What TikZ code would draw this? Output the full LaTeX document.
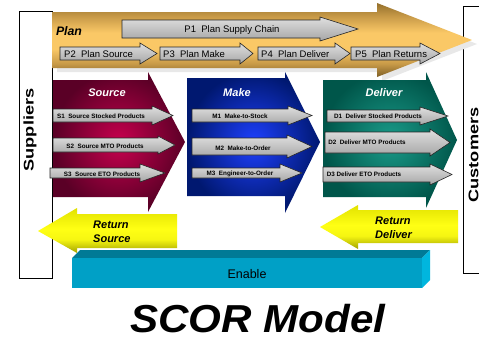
\documentclass[tikz,border=0pt]{standalone}
\usepackage{fontspec}
\setmainfont{Liberation Sans}
\usetikzlibrary{calc}

\definecolor{planDark}{HTML}{94702C}
\definecolor{planEdge}{HTML}{C89A48}
\definecolor{planMid}{HTML}{FAC866}
\definecolor{planLow}{HTML}{7E5F26}
\definecolor{srcIn}{HTML}{C8004E}
\definecolor{srcOut}{HTML}{5A0026}
\definecolor{mkIn}{HTML}{1E40FF}
\definecolor{mkOut}{HTML}{001870}
\definecolor{dlIn}{HTML}{1A9C8A}
\definecolor{dlOut}{HTML}{00564A}
\definecolor{retTop}{HTML}{E2E200}
\definecolor{retMid}{HTML}{FFFF14}
\definecolor{retBot}{HTML}{A2A200}
\definecolor{enFront}{HTML}{00A0C6}
\definecolor{enTop}{HTML}{007A96}
\definecolor{enSide}{HTML}{00B6DE}

% the path's bounding box spans 25bp..75bp of a shading
% golden band: dark flaps, bright centre line
\pgfdeclareverticalshading{planshade}{100bp}{%
  color(0bp)=(planLow); color(25bp)=(planLow); color(34bp)=(planEdge);
  color(44bp)=(planMid); color(55bp)=(planMid); color(66bp)=(planEdge);
  color(75bp)=(planDark); color(100bp)=(planDark)}
% yellow return arrows
\pgfdeclareverticalshading{retshade}{100bp}{%
  color(0bp)=(retBot); color(25bp)=(retBot); color(40bp)=(retMid!90!retBot);
  color(52bp)=(retMid); color(75bp)=(retTop); color(100bp)=(retTop)}

\tikzset{
  partybox/.style={draw=black, line width=0.9pt},
  subarrow/.style={draw=black!85, line width=0.6pt, top color=gray!25, bottom color=gray!70},
  planlabel/.style={font=\fontsize{9.5}{11}\selectfont, inner sep=0pt},
  sublabel/.style={font=\fontsize{6.3}{7}\selectfont\bfseries, inner sep=0pt},
  stagetitle/.style={font=\fontsize{11}{13}\selectfont\bfseries\itshape, text=white, inner sep=0pt},
  returnlabel/.style={font=\fontsize{11}{13.5}\selectfont\bfseries\itshape, align=left, inner sep=0pt},
  partylabel/.style={font=\fontsize{14}{16}\selectfont\bfseries, rotate=90, inner sep=0pt},
}

% right-pointing block arrow: x-left, x-head, x-tip, y-top, y-bottom, head overhang
\newcommand\grarr[6]{%
  \path[subarrow] (#1,#4) -- (#2,#4) -- (#2,#4-#6) -- (#3,{(#4+#5)/2})
    -- (#2,#5+#6) -- (#2,#5) -- (#1,#5) -- cycle;}

\begin{document}
\begin{tikzpicture}[x=1pt, y=-1pt]
\useasboundingbox[fill=white] (0,0) rectangle (479,338);

% trading partners
\draw[partybox] (19,11) rectangle (52,278);
\draw[partybox] (490,6) -- (463,6) -- (463,273) -- (490,273);
\node[partylabel] (suppliers) at (30,130) {\scalebox{1.3}[1]{Suppliers}};
\node[partylabel] (customers) at (473.5,155) {\scalebox{1.3}[1]{Customers}};

% Plan band with its shadow
\fill[gray!18] (57,16) -- (382,16) -- (382,7) -- (477,44) -- (382,81) -- (382,72) -- (57,72) -- cycle;
\path[shading=planshade]
  (52,12) -- (377,12) -- (377,3) -- (472,40) -- (377,77) -- (377,68) -- (52,68) -- cycle;
\node[font=\fontsize{12.3}{14}\selectfont\bfseries\itshape, inner sep=0pt] (plan) at (69,31) {Plan};

% Source, Make, Deliver
\path[inner color=srcIn, outer color=srcOut]
  (53,80) -- (148,80) -- (148,72) -- (185,142) -- (148,212) -- (148,197) -- (53,197) -- cycle;
\path[inner color=mkIn, outer color=mkOut]
  (187,78) -- (285,78) -- (285,72) -- (320,142) -- (285,213) -- (285,196) -- (187,196) -- cycle;
\path[inner color=dlIn, outer color=dlOut]
  (323,80) -- (426,80) -- (426,72) -- (457,140) -- (426,208) -- (426,197) -- (323,197) -- cycle;
\node[stagetitle] (source) at (107,93) {Source};
\node[stagetitle] (make) at (237,93) {Make};
\node[stagetitle] (deliver) at (384,93) {Deliver};

% process arrows
\grarr{122}{320}{358}{20}{38}{3}
\grarr{60}{140}{157}{47}{60}{4}
\grarr{160}{240}{253}{47}{60}{4}
\grarr{258}{335}{350}{47}{60}{4}
\grarr{351}{420}{440}{47}{60}{4}
\grarr{53}{152}{173}{109}{122}{3}
\grarr{53}{158}{175}{138}{152}{2}
\grarr{50}{140}{165}{168}{178}{4}
\grarr{192}{288}{312}{109}{122}{3}
\grarr{192}{287}{312}{138}{155}{3}
\grarr{192}{280}{302}{168}{178}{4}
\grarr{327}{420}{448}{110}{122}{3}
\grarr{325}{430}{450}{132}{153}{3}
\grarr{323}{430}{452}{167}{182}{3}

\node[planlabel] (p1) at (232,30) {P1\ \ Plan Supply Chain};
\node[planlabel, anchor=west] (p2) at (64,54) {P2\ \ Plan Source};
\node[planlabel, anchor=west] (p3) at (163,54) {P3\ \ Plan Make};
\node[planlabel, anchor=west] (p4) at (261,54) {P4\ \ Plan Deliver};
\node[planlabel, anchor=west] (p5) at (355,54) {P5\ \ Plan Returns};

\node[sublabel] (s1) at (101,116) {S1\ \ Source Stocked Products};
\node[sublabel] (s2) at (105,146) {S2\ \ Source MTO Products};
\node[sublabel] (s3) at (102,174) {S3\ \ Source ETO Products};
\node[sublabel] (m1) at (240,116) {M1\ \ Make-to-Stock};
\node[sublabel] (m2) at (243,148) {M2\ \ Make-to-Order};
\node[sublabel] (m3) at (240,174) {M3\ \ Engineer-to-Order};
\node[sublabel] (d1) at (378,116) {D1\ \ Deliver Stocked Products};
\node[sublabel] (d2) at (367,142) {D2\ \ Deliver MTO Products};
\node[sublabel] (d3) at (364,174) {D3 Deliver ETO Products};

% return flows
\path[shading=retshade]
  (177,214) -- (77,214) -- (77,208) -- (38,231) -- (77,253) -- (77,248) -- (177,248) -- cycle;
\path[shading=retshade]
  (458,210) -- (358,210) -- (358,205) -- (320,227) -- (358,249) -- (358,243) -- (458,243) -- cycle;
\node[returnlabel, anchor=west] (retsrc) at (93,232) {Return\\Source};
\node[returnlabel, anchor=west] (retdlv) at (375,228) {Return\\Deliver};

% Enable slab
\fill[enTop] (72,258) -- (80,250) -- (430,250) -- (422,258) -- cycle;
\fill[enSide] (422,258) -- (430,250) -- (430,280) -- (422,288) -- cycle;
\fill[enFront] (72,258) rectangle (422,288);
\node[font=\fontsize{12.5}{14}\selectfont, inner sep=0pt] (enable) at (247,274) {Enable};

% title
\node[font=\fontsize{39}{44}\selectfont\bfseries\itshape, inner sep=0pt, anchor=base] (title) at (258,332) {\scalebox{1.08}[1]{SCOR Model}};
\end{tikzpicture}
\end{document}
